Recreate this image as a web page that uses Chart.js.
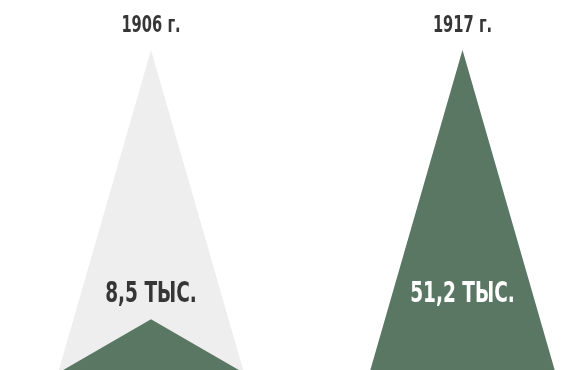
<!DOCTYPE html>
<html>
<head>
<meta charset="utf-8">
<script src="https://cdn.jsdelivr.net/npm/chart.js@4.4.0/dist/chart.umd.min.js"></script>
<style>
  html, body { margin: 0; padding: 0; background: #ffffff; overflow: hidden; }
  #wrap { width: 564px; height: 370px; position: relative; }
</style>
</head>
<body>
<div id="wrap"><canvas id="c"></canvas></div>
<script>
const categories = ['1906 г.', '1917 г.'];
const values = [8.5, 51.2];
const valueLabels = ['8,5 ТЫС.', '51,2 ТЫС.'];
const maxValue = 51.2;

const GREEN = '#5a7764';
const GREY = '#eeeeee';
const HALF = 0.2986;
const SQUEEZE = 0.71;
const FONT_FAMILY = '"DejaVu Sans Condensed", "Liberation Sans Narrow", sans-serif';

function triangle(i, v) {
  return [{ x: i - HALF, y: 0 }, { x: i, y: v }, { x: i + HALF, y: 0 }];
}

const datasets = [];
values.forEach((v, i) => {
  datasets.push({ data: triangle(i, v), backgroundColor: GREEN, borderWidth: 0, pointRadius: 0, fill: 'origin', tension: 0, order: 1 });
});
values.forEach((v, i) => {
  datasets.push({ data: triangle(i, maxValue), backgroundColor: GREY, borderWidth: 0, pointRadius: 0, fill: 'origin', tension: 0, order: 2 });
});

function squeezedText(ctx, text, x, y) {
  ctx.save();
  ctx.translate(x, y);
  ctx.scale(SQUEEZE, 1);
  ctx.fillText(text, 0, 0);
  ctx.restore();
}

const labelPlugin = {
  id: 'labels',
  afterDatasetsDraw(chart) {
    const ctx = chart.ctx;
    const xs = chart.scales.x;
    const area = chart.chartArea;
    ctx.save();
    ctx.textAlign = 'center';
    ctx.textBaseline = 'middle';
    categories.forEach((c, i) => {
      const x = xs.getPixelForValue(i);
      ctx.fillStyle = '#363636';
      ctx.font = 'bold 23px ' + FONT_FAMILY;
      squeezedText(ctx, c, x, area.top + 26);
      ctx.font = 'bold 29px ' + FONT_FAMILY;
      ctx.fillStyle = values[i] >= maxValue * 0.5 ? '#ffffff' : '#363636';
      squeezedText(ctx, valueLabels[i], x, area.bottom - 76);
    });
    ctx.restore();
  }
};

new Chart(document.getElementById('c'), {
  type: 'line',
  data: { datasets },
  options: {
    responsive: true,
    maintainAspectRatio: false,
    animation: false,
    devicePixelRatio: 1,
    layout: { padding: 0 },
    plugins: { legend: { display: false }, tooltip: { enabled: false } },
    scales: {
      x: { type: 'linear', display: false, min: -0.4848, max: 1.3258 },
      y: { type: 'linear', display: false, min: 0.4755, max: 59.12 }
    }
  },
  plugins: [labelPlugin]
});
</script>
</body>
</html>
